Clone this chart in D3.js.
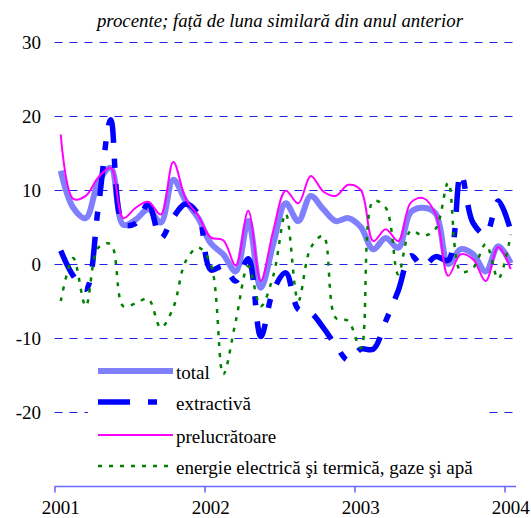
<html>
<head>
<meta charset="utf-8">
<script src="https://d3js.org/d3.v7.min.js"></script>
<style>
body {margin:0; background:#fff;}
</style>
</head>
<body>
<svg id="chart" width="531" height="518"></svg>
<script>
// months since Jan 2001, Jan 2001 .. Jan 2004
const years = ["2001", "2002", "2003", "2004"];
const yTicks = [30, 20, 10, 0, -10, -20];

const total = [12.6, 7.6, 6.2, 11.0, 13.0, 5.3, 6.0, 7.4, 5.6, 11.4, 8.5, 6.2,
  2.8, 1.3, -1.0, 5.8, -3.2, 2.7, 8.2, 5.8, 9.2, 7.4, 5.8, 6.2,
  5.0, 2.0, 3.5, 2.2, 7.0, 7.6, 6.8, 0.0, 2.0, 1.3, -1.0, 2.4, 0.1];
const extractiva = [1.8, -1.6, -3.4, 7.6, 19.5, 5.4, 5.5, 8.1, 3.5, 6.3, 8.1, 6.7,
  -0.8, -0.3, -2.3, 0.7, -9.8, -3.6, -1.2, -6.1, -6.6, -8.6, -11.0, -13.0,
  -11.5, -11.5, -7.7, -3.6, 1.1, -0.3, 1.0, 0.5, 12.2, 5.5, 4.0, 8.5, 4.5];
const prelucratoare = [17.5, 8.8, 9.2, 11.7, 13.0, 6.2, 7.6, 8.4, 6.7, 13.8, 8.8, 6.5,
  3.6, 3.2, -0.2, 7.2, -2.3, 4.5, 9.9, 8.2, 11.9, 9.8, 9.2, 10.7,
  10.0, 3.1, 4.7, 3.1, 8.3, 8.9, 6.7, -1.6, 1.3, 0.6, -2.3, 2.3, -0.7];
const energie = [-5.0, 0.8, -5.7, 2.2, 2.7, -5.7, -5.3, -4.7, -8.6, -5.9, 0.4, 2.2,
  0.0, -14.9, -7.7, -0.3, -5.7, -1.6, 6.8, -5.0, 2.2, 3.8, -7.3, -7.7,
  -11.4, 8.5, 7.6, -1.4, 4.5, 3.8, 4.8, 11.0, -1.0, -0.5, 2.7, -2.0, 4.0];

const series = [
  {name: "total", values: total, color: "#8080ff", width: 6, dash: null},
  {name: "extractivă", values: extractiva, color: "#0000ff", width: 5.5, dash: "30,16,9,16"},
  {name: "prelucrătoare", values: prelucratoare, color: "#ff00ff", width: 2, dash: null},
  {name: "energie electrică şi termică, gaze şi apă", values: energie, color: "#008000", width: 2.5, dash: "4,7"}
];

const font = "'Liberation Serif', 'Times New Roman', 'DejaVu Serif', serif";
const svg = d3.select("#chart");

const x = d3.scaleLinear().domain([0, 36]).range([54.5, 504.5]);
const y = d3.scaleLinear().domain([-30, 30]).range([486, 42]);
const xEnd = 516;

// title
svg.append("text")
  .attr("x", 280).attr("y", 27)
  .attr("text-anchor", "middle")
  .style("font-family", font)
  .style("font-style", "italic")
  .style("font-size", "18.8px")
  .text("procente; față de luna similară din anul anterior");

// grid
svg.append("g").selectAll("line")
  .data(yTicks)
  .enter().append("line")
  .attr("x1", x(0)).attr("x2", xEnd)
  .attr("y1", d => Math.round(y(d)) + 0.5).attr("y2", d => Math.round(y(d)) + 0.5)
  .attr("stroke", "#2020e6").attr("stroke-width", 1)
  .attr("stroke-dasharray", "8,7");

svg.append("g").selectAll("text")
  .data(yTicks)
  .enter().append("text")
  .attr("x", 41).attr("y", d => y(d) + 6.5)
  .attr("text-anchor", "end")
  .style("font-family", font)
  .style("font-size", "19px")
  .text(d => d);

// legend box covers the grid
const legend = svg.append("g");
legend.append("rect")
  .attr("x", 88).attr("y", 352).attr("width", 397).attr("height", 126)
  .attr("fill", "#fff");

// x axis
const axis = svg.append("g")
  .attr("transform", "translate(0," + (y(-30) + 0.5) + ")")
  .call(d3.axisBottom(x).tickValues([0, 12, 24, 36]).tickSize(6).tickSizeOuter(0).tickFormat(""));
axis.select(".domain").attr("d", "M" + x(0) + ",0H" + xEnd).attr("stroke", "#6a6aff").attr("stroke-width", 1.6);
axis.selectAll(".tick line").attr("stroke", "#6a6aff").attr("stroke-width", 1.6);

svg.append("g").selectAll("text")
  .data(years)
  .enter().append("text")
  .attr("x", (d, i) => x(i * 12 + 0.5))
  .attr("y", 514)
  .attr("text-anchor", "middle")
  .style("font-family", font)
  .style("font-size", "19px")
  .text(d => d);

// lines
const line = d3.line()
  .x((d, i) => x(i + 0.5))
  .y(d => y(d))
  .curve(d3.curveCatmullRom.alpha(0.5));

series.forEach(s => {
  svg.append("path")
    .datum(s.values)
    .attr("d", line)
    .attr("fill", "none")
    .attr("stroke", s.color)
    .attr("stroke-width", s.width)
    .attr("stroke-dasharray", s.dash)
    .attr("stroke-linejoin", "round");
});

// legend entries
const legY = [371, 402, 435, 466];
series.forEach((s, i) => {
  legend.append("line")
    .attr("x1", 98).attr("x2", i == 1 ? 157 : 173)
    .attr("y1", legY[i]).attr("y2", legY[i])
    .attr("stroke", s.color)
    .attr("stroke-width", s.width)
    .attr("stroke-dasharray", i == 1 ? "32,18,9,40" : s.dash);
  legend.append("text")
    .attr("x", 176).attr("y", legY[i] + 7.5)
    .style("font-family", font)
    .style("font-size", "19px")
    .text(s.name);
});
</script>
</body>
</html>
